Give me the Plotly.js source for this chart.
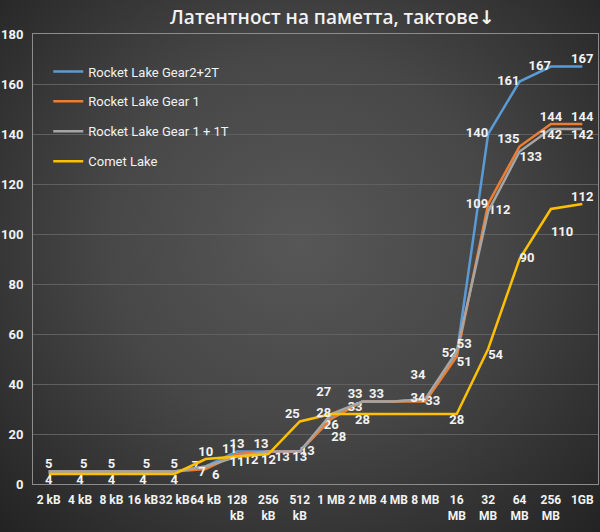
<!DOCTYPE html>
<html>
<head>
<meta charset="utf-8">
<script src="https://cdn.plot.ly/plotly-3.0.1.min.js"></script>
<style>
  html, body { margin: 0; padding: 0; }
  body {
    width: 600px; height: 532px; overflow: hidden;
    background: radial-gradient(ellipse 72% 78% at 50% 45%, #575757 0%, #474747 45%, #2c2c2c 85%, #222222 100%);
  }
  #chart { width: 600px; height: 532px; }
</style>
</head>
<body>
<div id="chart"></div>
<script>
// block sizes
const sizes = ["2 kB", "4 kB", "8 kB", "16 kB", "32 kB", "64 kB", "128<br>kB", "256<br>kB", "512<br>kB",
  "1 MB", "2 MB", "4 MB", "8 MB", "16<br>MB", "32<br>MB", "64<br>MB", "256<br>MB", "1GB"];

// latency in cycles
const gear2 = [5, 5, 5, 5, 5, 7, 13, 13, 13, 27, 33, 33, 34, 52, 140, 161, 167, 167];
const gear1 = [5, 5, 5, 5, 5, 6, 12, 13, 13, 26, 33, 33, 33, 51, 112, 135, 144, 144];
const gear1t = [5, 5, 5, 5, 5, 7, 11, 13, 13, 28, 33, 33, 34, 53, 109, 133, 142, 142];
const comet = [4, 4, 4, 4, 4, 10, 11, 12, 25, 28, 28, 28, 28, 28, 54, 90, 110, 112];

// data labels: 0 = none, 1 = next to point, 2 = one line further out, 3 = padded sideways
const gear2Shown = [0, 0, 0, 0, 0, 3, 1, 1, 0, 2, 3, 0, 2, 1, 1, 1, 1, 1];
const gear2Pos = ["top center", "top center", "top center", "top center", "top center", "middle left",
  "top center", "top left", "top center", "top left", "top right", "top center", "top left",
  "middle left", "middle left", "middle left", "middle left", "top center"];
const gear1Shown = [0, 0, 0, 0, 0, 3, 3, 3, 1, 1, 1, 0, 1, 1, 1, 1, 1, 1];
const gear1Pos = ["top center", "top center", "top center", "top center", "top center", "bottom right",
  "bottom right", "bottom right", "middle right", "bottom center", "bottom left", "top center",
  "middle right", "bottom right", "bottom right", "top left", "top center", "top center"];
const gear1tShown = [1, 1, 1, 1, 1, 1, 1, 0, 1, 2, 1, 0, 1, 1, 1, 1, 1, 1];
const gear1tPos = ["top center", "top right", "top center", "top right", "top center", "bottom left",
  "top left", "top center", "bottom center", "bottom right", "top left", "top center",
  "middle left", "top right", "top left", "bottom right", "bottom center", "bottom center"];
const cometShown = [1, 1, 1, 1, 1, 1, 1, 1, 1, 1, 1, 0, 0, 1, 1, 1, 2, 1];
const cometPos = ["bottom center", "bottom center", "bottom center", "bottom center", "bottom center",
  "top center", "bottom center", "bottom center", "top left", "middle left", "bottom center",
  "top center", "top center", "bottom center", "bottom right", "middle right", "bottom right", "top center"];

const fontFam = "Roboto, Noto Sans, sans-serif";
const labelFont = { family: fontFam, size: 13, color: "#f2f2f2", weight: "bold" };
const pad = "\u00a0\u00a0";

function labelText(v, shown, pos) {
  if (!shown) return "";
  if (shown === 2) {
    // extra empty line moves the label away from the line
    return pos.startsWith("top") ? v + "<br>\u00a0" : "\u00a0<br>" + v;
  }
  if (shown === 3) {
    if (pos.endsWith("left")) return v + pad;
    if (pos.endsWith("right")) return pad + v;
  }
  return String(v);
}

function makeTrace(name, values, shown, pos, color) {
  return {
    x: sizes,
    y: values,
    name: name,
    legendgroup: name,
    type: "scatter",
    mode: "lines+text",
    line: { color: color, width: 2.5 },
    text: values.map((v, i) => labelText(v, shown[i], pos[i])),
    textposition: pos,
    textfont: labelFont,
    cliponaxis: false,
    hoverinfo: "x+y+name",
  };
}

const data = [
  makeTrace("Rocket Lake Gear2+2T", gear2, gear2Shown, gear2Pos, "#5b9bd5"),
  makeTrace("Rocket Lake Gear 1", gear1, gear1Shown, gear1Pos, "#ed7d31"),
  makeTrace("Rocket Lake Gear 1 + 1T", gear1t, gear1tShown, gear1tPos, "#a5a5a5"),
  makeTrace("Comet Lake", comet, cometShown, cometPos, "#ffc000"),
];

const layout = {
  width: 600,
  height: 532,
  paper_bgcolor: "rgba(0,0,0,0)",
  plot_bgcolor: "rgba(0,0,0,0)",
  margin: { l: 33, r: 2, t: 34, b: 48 },
  font: { family: fontFam, color: "#f2f2f2" },
  title: {
    text: "Латентност на паметта, тактове<span style='font-family:DejaVu Sans;font-weight:bold'>↓</span>",
    x: 0.554,
    xanchor: "center",
    y: 0.967,
    yanchor: "middle",
    font: { family: "Open Sans, Noto Sans, sans-serif", size: 19, color: "#f2f2f2", weight: 600 },
  },
  showlegend: true,
  legend: {
    x: 0.027,
    y: 0.95,
    xanchor: "left",
    yanchor: "top",
    bgcolor: "rgba(0,0,0,0)",
    font: { family: fontFam, size: 13, color: "#f2f2f2" },
    itemwidth: 30,
    tracegroupgap: 10,
    traceorder: "grouped",
  },
  xaxis: {
    type: "category",
    range: [-0.5, sizes.length - 0.5],
    showgrid: false,
    showline: true,
    mirror: true,
    linecolor: "#8c8c8c",
    linewidth: 1,
    ticks: "",
    tickangle: 0,
    ticklabelstandoff: 5,
    tickfont: { family: fontFam, size: 12, color: "#f2f2f2", weight: "bold" },
    fixedrange: true,
  },
  yaxis: {
    range: [0, 180],
    dtick: 20,
    showgrid: true,
    gridcolor: "#606060",
    gridwidth: 1,
    zeroline: false,
    showline: true,
    mirror: true,
    linecolor: "#8c8c8c",
    linewidth: 1,
    ticks: "",
    ticklabelstandoff: 6,
    tickfont: { family: fontFam, size: 13, color: "#f2f2f2", weight: "bold" },
    fixedrange: true,
  },
};

Plotly.newPlot("chart", data, layout, { displayModeBar: false, staticPlot: true });
</script>
</body>
</html>
